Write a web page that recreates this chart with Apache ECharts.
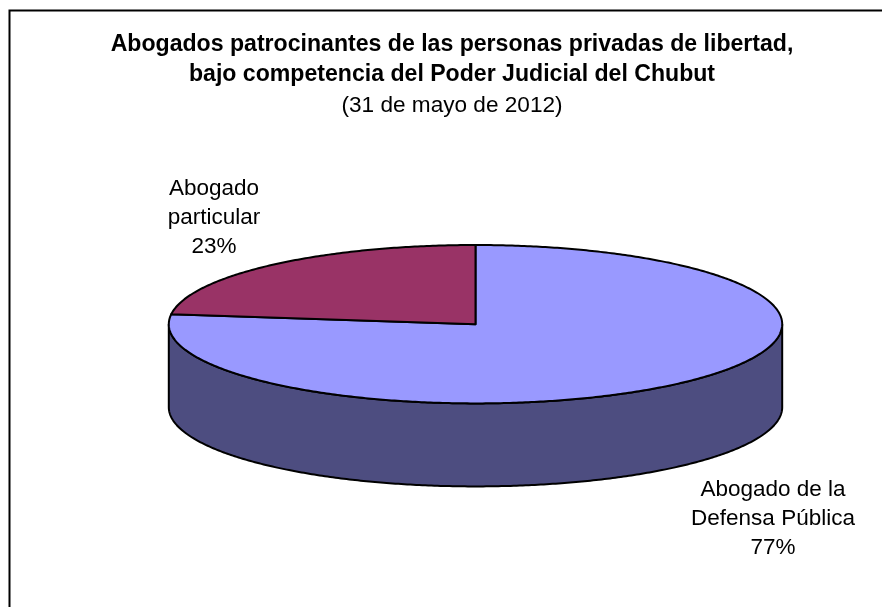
<!DOCTYPE html>
<html><head><meta charset="utf-8">
<style>html,body{margin:0;padding:0;background:#fff}#c{width:882px;height:607px}</style>
<script src="https://cdn.jsdelivr.net/npm/echarts@6/dist/echarts.min.js"></script>
</head><body><div id="c"></div>
<script>
const categories = ['Abogado de la\nDefensa Pública', 'Abogado\nparticular'];
const values = [77, 23];
const topColors = ['#9999ff', '#993366'];
const sideColors = ['#4d4d80', '#4d1a33'];
const labelPos = [[773, 519], [214, 217.5]];
const titleLines = ['Abogados patrocinantes de las personas privadas de libertad,', 'bajo competencia del Poder Judicial del Chubut', '(31 de mayo de 2012)'];

const cx = 475.5, cy = 324.2, rx = 306.7, ry = 79.2, depth = 83;
const total = values.reduce((a, b) => a + b, 0);
const pt = (a, dy = 0) => [cx + rx * Math.sin(a), cy + dy - ry * Math.cos(a)];
function arcPts(a0, a1, dy) {
  const n = Math.max(2, Math.ceil(Math.abs(a1 - a0) / 0.01)), r = [];
  for (let i = 0; i <= n; i++) r.push(pt(a0 + (a1 - a0) * i / n, dy));
  return r;
}
const lineStyle = { stroke: '#000', lineWidth: 2, lineJoin: 'round' };
function renderItem(params, api) {
  const i = params.dataIndex;
  let before = 0;
  for (let k = 0; k < i; k++) before += values[k];
  const a0 = before / total * 2 * Math.PI, a1 = (before + api.value(0)) / total * 2 * Math.PI;
  const children = [];
  const s0 = Math.max(a0, Math.PI / 2), s1 = Math.min(a1, 3 * Math.PI / 2);
  if (s1 > s0) {
    const upper = arcPts(s0, s1, 0), lower = arcPts(s1, s0, depth);
    children.push({ type: 'polygon', shape: { points: upper.concat(lower) },
      style: Object.assign({ fill: sideColors[i] }, lineStyle) });
  }
  children.push({ type: 'polygon',
    shape: { points: [[cx, cy]].concat(arcPts(a0, a1, 0)) },
    style: Object.assign({ fill: topColors[i] }, lineStyle) });
  children.push({ type: 'text', style: {
    x: labelPos[i][0], y: labelPos[i][1],
    text: api.value(1) + '\n' + api.value(0) + '%',
    fill: '#000', font: '22.5px "Liberation Sans", Arial, sans-serif',
    align: 'center', verticalAlign: 'middle', lineHeight: 29 } });
  return { type: 'group', children };
}
const chart = echarts.init(document.getElementById('c'), null, { renderer: 'canvas' });
chart.setOption({
  animation: false,
  backgroundColor: '#fff',
  title: {
    left: 447, top: 24.75, textAlign: 'center',
    text: '{b|' + titleLines[0] + '}\n{b|' + titleLines[1] + '}\n{n|' + titleLines[2] + '}',
    textStyle: { rich: {
      b: { fontFamily: 'Liberation Sans', fontWeight: 'bold', fontSize: 23.1, lineHeight: 30, color: '#000' },
      n: { fontFamily: 'Liberation Sans', fontWeight: 'normal', fontSize: 22.6, lineHeight: 32, color: '#000' }
    } }
  },
  graphic: [{ type: 'polyline', silent: true,
    shape: { points: [[9.5, 607], [9.5, 10.5], [882, 10.5]] },
    style: { stroke: '#000', lineWidth: 2, fill: null } }],
  series: [{ type: 'custom', coordinateSystem: 'none', renderItem, clip: false,
    data: values.map((v, i) => [v, categories[i]]) }]
});
</script></body></html>
